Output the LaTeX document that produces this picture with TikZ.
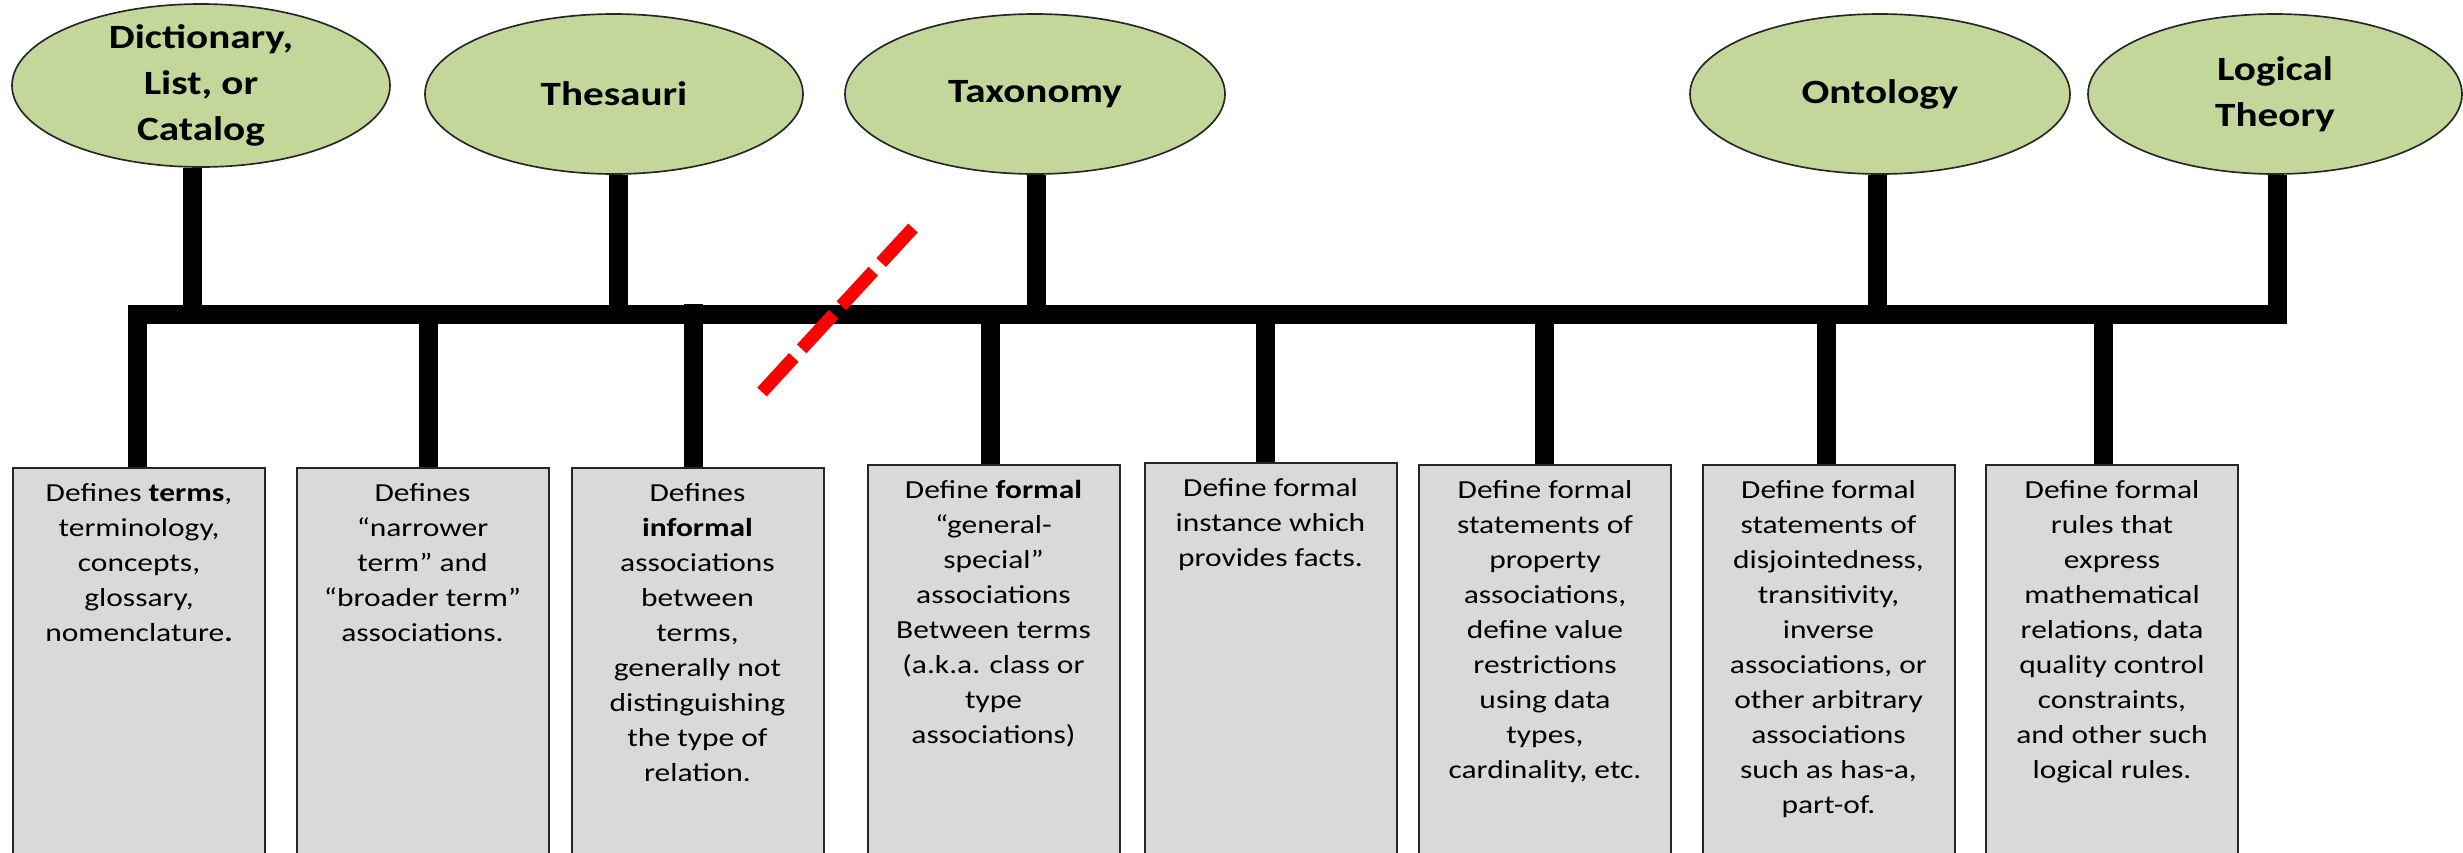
\documentclass[tikz,border=0pt]{standalone}
\usepackage{fontspec}
\setmainfont{Carlito}[FakeStretch=1.21]
\usetikzlibrary{shapes.geometric}
\definecolor{topicgreen}{HTML}{C4D79B}
\definecolor{boxgray}{HTML}{D9D9D9}
\begin{document}
\begin{tikzpicture}[x=0.3pt,y=-0.3pt,
  topic/.style={ellipse, draw=black!85, line width=0.5pt, fill=topicgreen, inner sep=0pt, minimum width=113.4pt, minimum height=48pt},
  topiclabel/.style={font=\fontsize{10.2pt}{13.9pt}\selectfont\bfseries, align=center, inner sep=0pt},
  descbox/.style={rectangle, draw=black!85, line width=0.6pt, fill=boxgray, anchor=north, inner sep=0pt, minimum width=75.6pt, minimum height=125pt},
  desctext/.style={font=\fontsize{7.8pt}{10.5pt}\selectfont, align=center, anchor=north, inner sep=0pt, yshift=-4.8pt},
  stemline/.style={line width=5.7pt, black},
  barline/.style={line width=5.7pt, black, line join=miter},
  cutline/.style={red, line width=3.9pt, dash pattern=on 14.1pt off 3.5pt}
]
\clip (0,0) rectangle (2463,852);
\coordinate (bar) at (0,314);

% top ellipses
\node[topic, minimum height=48.9pt, label={[topiclabel]center:{Dictionary,\\List, or\\Catalog}}] (e1) at (201,85.5) {};
\node[topic, label={[topiclabel]center:{Thesauri}}] (e2) at (614,94) {};
\node[topic, minimum width=114pt, label={[topiclabel]center:{Taxonomy}}] (e3) at (1035,94) {};
\node[topic, minimum width=114pt, label={[topiclabel]center:{Ontology}}] (e4) at (1880,94) {};
\node[topic, minimum width=112.2pt, label={[topiclabel]center:{Logical\\Theory}}] (e5) at (2275,94) {};

% description boxes
\node[descbox, minimum height=126pt, label={[desctext]north:{Defines \textbf{terms},\\terminology,\\concepts,\\glossary,\\nomenclature\textbf{.}}}] (b1) at (139,467) {};
\node[descbox, minimum height=126pt, label={[desctext]north:{Defines\\“narrower\\term” and\\“broader term”\\associations.}}] (b2) at (422.5,467) {};
\node[descbox, minimum height=126pt, label={[desctext]north:{Defines\\\textbf{informal}\\associations\\between\\terms,\\generally not\\distinguishing\\the type of\\relation.}}] (b3) at (697.5,467) {};
\node[descbox, label={[desctext]north:{Define \textbf{formal}\\“general-\\special”\\associations\\Between terms\\(a.k.a. class or\\type\\associations)}}] (b4) at (993.5,464) {};
\node[descbox, label={[desctext]north:{Define formal\\instance which\\provides facts.}}] (b5) at (1270.5,462) {};
\node[descbox, label={[desctext]north:{Define formal\\statements of\\property\\associations,\\define value\\restrictions\\using data\\types,\\cardinality, etc.}}] (b6) at (1545,464) {};
\node[descbox, label={[desctext]north:{Define formal\\statements of\\disjointedness,\\transitivity,\\inverse\\associations, or\\other arbitrary\\associations\\such as has-a,\\part-of.}}] (b7) at (1828.5,464) {};
\node[descbox, label={[desctext]north:{Define formal\\rules that\\express\\mathematical\\relations, data\\quality control\\constraints,\\and other such\\logical rules.}}] (b8) at (2112,464) {};

% main bar with left and right corners
\draw[barline] ([xshift=-0.6pt]b1.north) |- ([xshift=0.6pt]e5.south |- bar) -- ([xshift=0.6pt]e5.south);

% stems from ellipses
\draw[stemline] ([xshift=-2.7pt]e1.south) -- ([xshift=-2.7pt]e1.south |- bar);
\draw[stemline] ([xshift=1.2pt]e2.south) -- ([xshift=1.2pt]e2.south |- bar);
\draw[stemline] ([xshift=0.3pt]e3.south) -- ([xshift=0.3pt]e3.south |- bar);
\draw[stemline] ([xshift=-0.9pt]e4.south) -- ([xshift=-0.9pt]e4.south |- bar);

% stems to boxes
\draw[stemline] ([xshift=1.65pt]b2.north) -- ([xshift=1.65pt]b2.north |- bar);
\draw[stemline] ([xshift=-1.35pt]b3.north) -- ([xshift=-1.35pt,yshift=3pt]b3.north |- bar);
\draw[stemline] ([xshift=-1.05pt]b4.north) -- ([xshift=-1.05pt]b4.north |- bar);
\draw[stemline] ([xshift=-1.65pt]b5.north) -- ([xshift=-1.65pt]b5.north |- bar);
\draw[stemline] ([xshift=-0.3pt]b6.north) -- ([xshift=-0.3pt]b6.north |- bar);
\draw[stemline] ([xshift=-0.75pt]b7.north) -- ([xshift=-0.75pt]b7.north |- bar);
\draw[stemline] ([xshift=-2.7pt]b8.north) -- ([xshift=-2.7pt]b8.north |- bar);

% red dashed cut mark
\coordinate (cutA) at (913,228);
\coordinate (cutB) at (762,392);
\draw[cutline] (cutA) -- (cutB);
\end{tikzpicture}
\end{document}
